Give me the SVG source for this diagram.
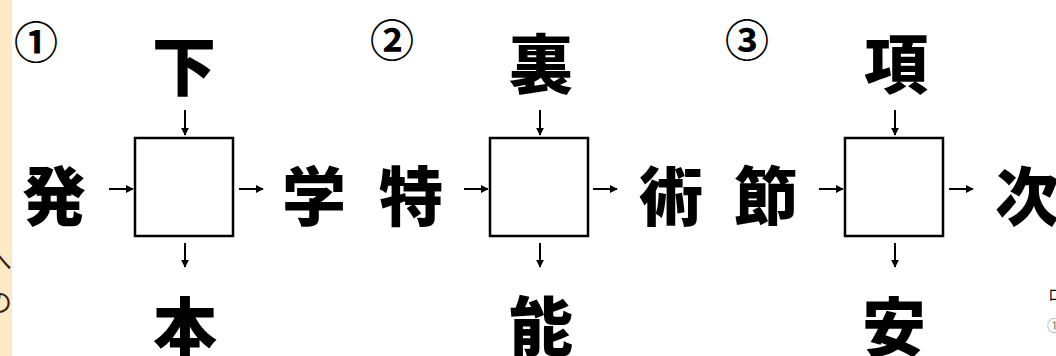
<svg xmlns="http://www.w3.org/2000/svg" width="1056" height="356" viewBox="0 0 1056 356">
<style>
.k{font-family:"Noto Sans CJK JP","Noto Sans CJK SC",sans-serif;font-weight:900;font-size:64px;fill:#000;text-anchor:middle;dominant-baseline:central}
.n{font-family:"Noto Sans CJK JP","DejaVu Sans",sans-serif;font-weight:700;font-size:44px;fill:#000;text-anchor:middle;dominant-baseline:central}
.box{fill:#fff;stroke:#000;stroke-width:2.5}
.ar{stroke:#000;stroke-width:2;fill:none;marker-end:url(#ah)}
.side{font-family:"Noto Sans CJK JP",sans-serif;font-size:26px;fill:#3a1e10;dominant-baseline:central}
.sm{font-family:"Noto Sans CJK JP",sans-serif;font-size:15px;dominant-baseline:central}
</style>
<defs>
<marker id="ah" viewBox="0 0 10 10" refX="9" refY="5" markerWidth="4" markerHeight="4" orient="auto" markerUnits="strokeWidth">
<path d="M0,0 L10,5 L0,10 z" fill="#000"/>
</marker>
</defs>
<rect x="0" y="0" width="1056" height="356" fill="#fff"/>
<rect x="0" y="0" width="12" height="356" fill="#fde9c6"/>
<text class="side" x="-14" y="258">へ</text>
<text class="side" x="-14" y="300">の</text>
<text class="sm" x="1048" y="293" fill="#000">ロ</text>
<text class="sm" x="1047" y="324" fill="#888">①</text>

<g id="label-1"><text class="n" x="36" y="40">①</text></g>
<g id="label-2"><text class="n" x="392" y="38">②</text></g>
<g id="label-3"><text class="n" x="747" y="38">③</text></g>

<g id="q1-left"><text class="k" x="54" y="192">発</text></g>
<g id="q1-top"><text class="k" x="184" y="62">下</text></g>
<g id="q1-box"><rect class="box" x="135" y="138" width="98" height="98"/></g>
<g id="q1-right"><text class="k" x="314" y="192">学</text></g>
<g id="q1-bottom"><text class="k" x="185" y="323">本</text></g>

<g id="q2-left"><text class="k" x="411" y="192">特</text></g>
<g id="q2-top"><text class="k" x="541" y="60">裏</text></g>
<g id="q2-box"><rect class="box" x="490" y="138" width="98" height="98"/></g>
<g id="q2-right"><text class="k" x="671" y="192">術</text></g>
<g id="q2-bottom"><text class="k" x="541" y="322">能</text></g>

<g id="q3-left"><text class="k" x="766" y="192">節</text></g>
<g id="q3-top"><text class="k" x="896" y="60">項</text></g>
<g id="q3-box"><rect class="box" x="845" y="138" width="98" height="98"/></g>
<g id="q3-right"><text class="k" x="1027" y="192">次</text></g>
<g id="q3-bottom"><text class="k" x="894" y="323">安</text></g>

<g id="connectors">
<line class="ar" x1="109" y1="189" x2="133" y2="189"/>
<line class="ar" x1="185" y1="110" x2="185" y2="135"/>
<line class="ar" x1="239" y1="189" x2="263" y2="189"/>
<line class="ar" x1="185" y1="243" x2="185" y2="267"/>

<line class="ar" x1="464" y1="189" x2="488" y2="189"/>
<line class="ar" x1="540" y1="110" x2="540" y2="135"/>
<line class="ar" x1="593" y1="189" x2="617" y2="189"/>
<line class="ar" x1="540" y1="243" x2="540" y2="267"/>

<line class="ar" x1="819" y1="189" x2="843" y2="189"/>
<line class="ar" x1="895" y1="110" x2="895" y2="135"/>
<line class="ar" x1="949" y1="189" x2="973" y2="189"/>
<line class="ar" x1="895" y1="243" x2="895" y2="267"/>
</g>
</svg>
